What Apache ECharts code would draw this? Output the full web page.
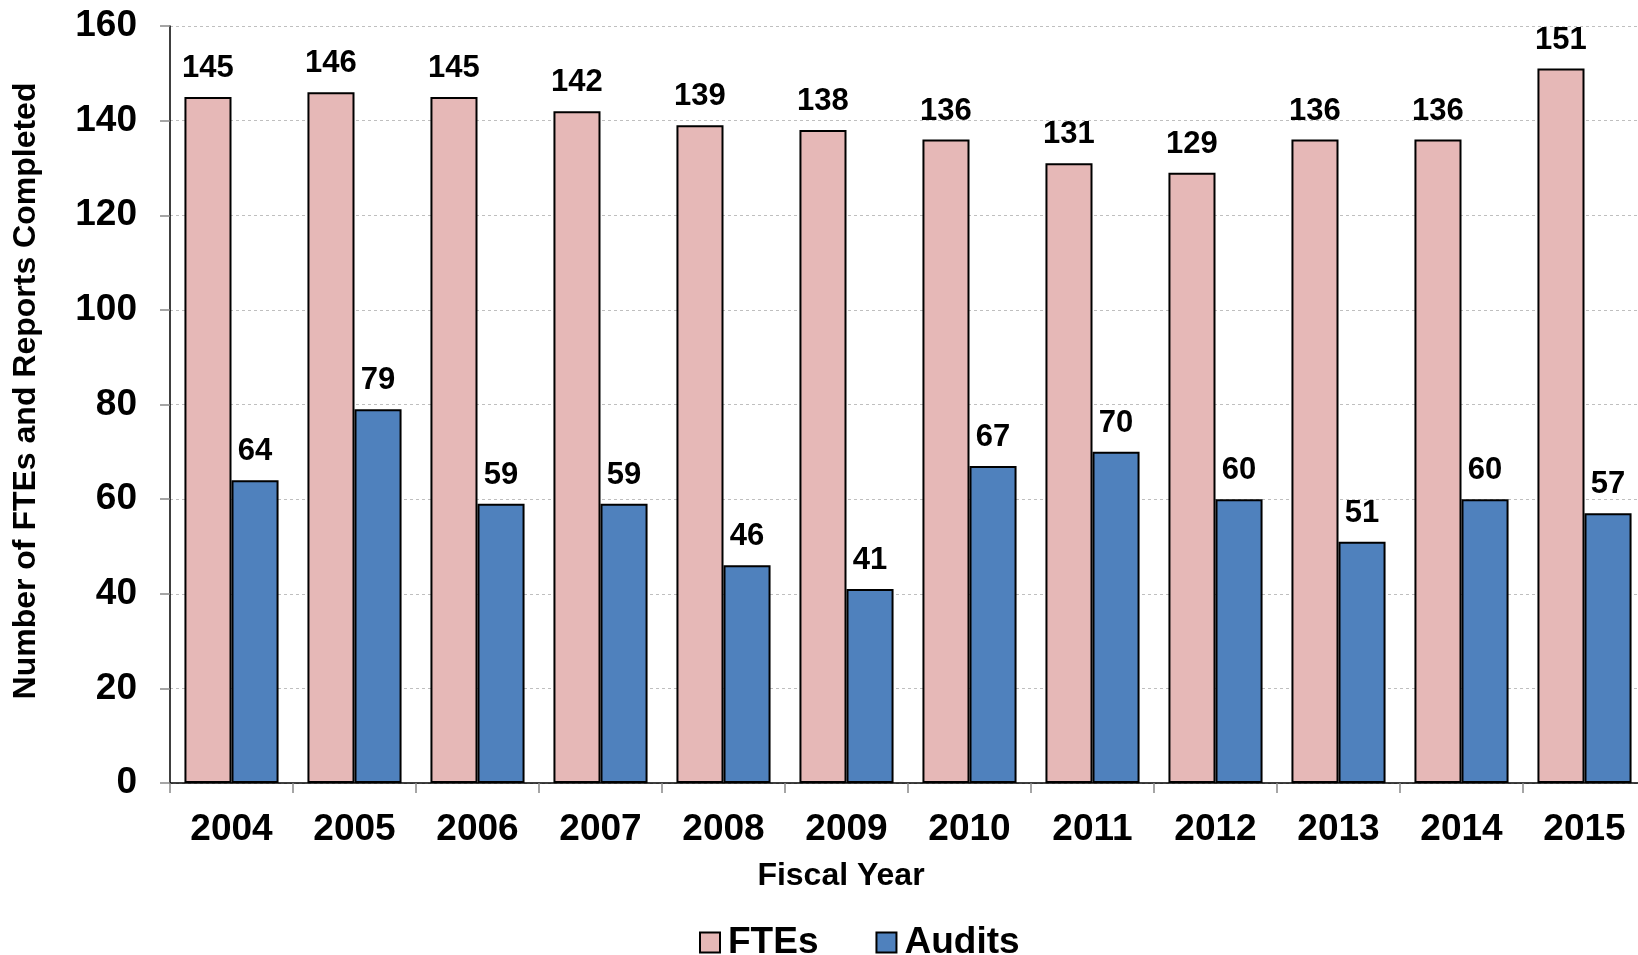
<!DOCTYPE html>
<html>
<head>
<meta charset="utf-8">
<script src="https://cdn.jsdelivr.net/npm/echarts@6/dist/echarts.min.js"></script>
<style>
html,body{margin:0;padding:0;background:#fff;}
#chart{width:1638px;height:955px;}
</style>
</head>
<body>
<div id="chart"></div>
<script>
const categories = ['2004','2005','2006','2007','2008','2009','2010','2011','2012','2013','2014','2015'];
const ftes = [145,146,145,142,139,138,136,131,129,136,136,151];
const audits = [64,79,59,59,46,41,67,70,60,51,60,57];
const seriesNames = ['FTEs','Audits'];
const yTitle = 'Number of FTEs and Reports Completed';
const xTitle = 'Fiscal Year';

const FONT = "'Liberation Sans', Arial, Helvetica, sans-serif";
const chart = echarts.init(document.getElementById('chart'), null, {renderer:'canvas'});

const labelStyle = {
  show: true, position: 'top', distance: 13,
  color: '#000', fontFamily: FONT, fontWeight: 'bold', fontSize: 31
};

chart.setOption({
  animation: false,
  backgroundColor: '#fff',
  grid: { left: 170, top: 26, width: 1476, bottom: 172, containLabel: false, outerBoundsMode: 'none' },
  legend: {
    left: 699, top: 924, padding: 0,
    itemWidth: 20, itemHeight: 20, itemGap: 57,
    icon: 'rect',
    textStyle: { fontFamily: FONT, fontWeight: 'bold', fontSize: 37, color: '#000', padding: [0, 0, 0, 3] },
    data: seriesNames
  },
  xAxis: {
    type: 'category',
    data: categories,
    axisLine: { lineStyle: { color: '#000', width: 1.5 } },
    axisTick: { show: true, length: 10, lineStyle: { color: '#888', width: 1.5 } },
    axisLabel: { margin: 28, color: '#000', fontFamily: FONT, fontWeight: 'bold', fontSize: 37 }
  },
  yAxis: {
    type: 'value',
    min: 0, max: 160, interval: 20,
    axisLine: { show: true, lineStyle: { color: '#000', width: 1.5 } },
    axisTick: { show: true, length: 10, lineStyle: { color: '#888', width: 1.5 } },
    axisLabel: { margin: 33, color: '#000', fontFamily: FONT, fontWeight: 'bold', fontSize: 37 },
    splitLine: { show: true, lineStyle: { color: '#bfbfbf', type: [3, 3], width: 1 } }
  },
  graphic: [
    {
      type: 'text', x: 26, y: 391, rotation: Math.PI / 2,
      style: { text: yTitle, fill: '#000', font: "bold 32px " + FONT, align: 'center', verticalAlign: 'middle' }
    },
    {
      type: 'text', x: 841, y: 876,
      style: { text: xTitle, fill: '#000', font: "bold 32px " + FONT, align: 'center', verticalAlign: 'middle' }
    }
  ],
  series: [
    {
      name: seriesNames[0], type: 'bar', data: ftes,
      barGap: '0%', barCategoryGap: '23.5%',
      itemStyle: { color: '#E6B8B7', borderColor: '#000', borderWidth: 2 },
      label: labelStyle
    },
    {
      name: seriesNames[1], type: 'bar', data: audits,
      barGap: '0%', barCategoryGap: '23.5%',
      itemStyle: { color: '#4F81BD', borderColor: '#000', borderWidth: 2 },
      label: labelStyle
    }
  ]
});
</script>
</body>
</html>
